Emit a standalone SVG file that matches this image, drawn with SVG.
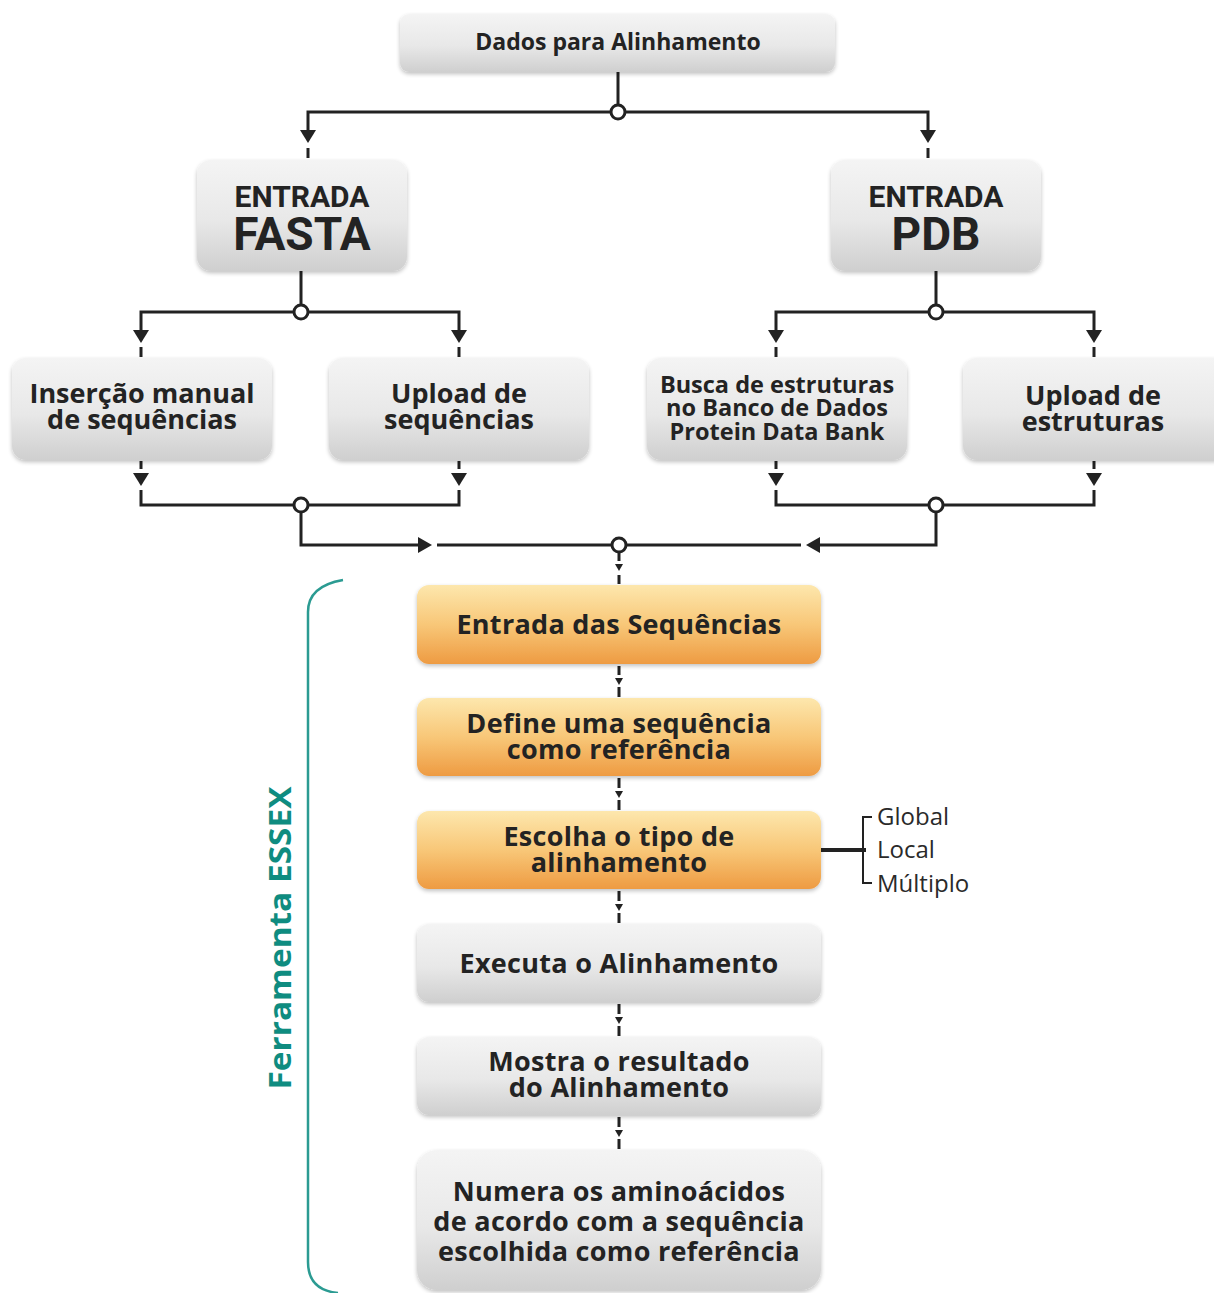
<svg xmlns="http://www.w3.org/2000/svg" width="1214" height="1293" viewBox="0 0 1214 1293">
<defs>
<linearGradient id="gGray" x1="0" y1="0" x2="0" y2="1">
<stop offset="0" stop-color="#f4f4f4"/><stop offset="0.55" stop-color="#e8e8e8"/><stop offset="1" stop-color="#cfcfcf"/>
</linearGradient>
<linearGradient id="gOrange" x1="0" y1="0" x2="0" y2="1">
<stop offset="0" stop-color="#fde7ad"/><stop offset="0.5" stop-color="#f8c778"/><stop offset="1" stop-color="#ee9b42"/>
</linearGradient>
<filter id="sh" x="-5%" y="-10%" width="110%" height="125%">
<feGaussianBlur in="SourceAlpha" stdDeviation="2"/>
<feOffset dy="2" result="b"/>
<feComponentTransfer><feFuncA type="linear" slope="0.25"/></feComponentTransfer>
<feMerge><feMergeNode/><feMergeNode in="SourceGraphic"/></feMerge>
</filter>
<path id="aDown" d="M-8,0 L8,0 L0,13 Z" fill="#222"/>
<path id="aSmall" d="M-4,0 L4,0 L0,7 Z" fill="#222"/>
</defs>
<style>
.gray{fill:url(#gGray);filter:url(#sh)}
.orange{fill:url(#gOrange);filter:url(#sh)}
.t{font-family:"Open Sans","Liberation Sans",sans-serif;font-weight:700;fill:#232323;text-anchor:middle}
.m{font-size:27px;letter-spacing:0.3px}
.h{font-family:Roboto,"Liberation Sans",sans-serif;font-weight:700;fill:#232323;text-anchor:middle}
.s{font-family:"Open Sans","Liberation Sans",sans-serif;font-weight:400;fill:#2a2a2a;font-size:24px}
.ln{fill:none;stroke:#222;stroke-width:3}
.dot{fill:#fff;stroke:#222;stroke-width:3}
</style>
<rect width="1214" height="1293" fill="#fff"/>

<g id="connectors">
<path class="ln" d="M618,72 V105"/>
<circle class="dot" cx="618" cy="112" r="7"/>
<path class="ln" d="M308,130 V112 H611 M625,112 H928 V130"/>
<use href="#aDown" x="308" y="130"/><use href="#aDown" x="928" y="130"/>
<path class="ln" d="M308,148 V158 M928,148 V158"/>

<path class="ln" d="M301,271 V305 M936,271 V305"/>
<circle class="dot" cx="301" cy="312" r="7"/>
<circle class="dot" cx="936" cy="312" r="7"/>
<path class="ln" d="M141,330 V312 H294 M308,312 H459 V330 M776,330 V312 H929 M943,312 H1094 V330"/>
<use href="#aDown" x="141" y="330"/><use href="#aDown" x="459" y="330"/>
<use href="#aDown" x="776" y="330"/><use href="#aDown" x="1094" y="330"/>
<path class="ln" d="M141,347 V357 M459,347 V357 M776,347 V357 M1094,347 V357"/>

<path class="ln" d="M141,461 V469 M459,461 V469 M776,461 V469 M1094,461 V469"/>
<use href="#aDown" x="141" y="473"/><use href="#aDown" x="459" y="473"/>
<use href="#aDown" x="776" y="473"/><use href="#aDown" x="1094" y="473"/>
<path class="ln" d="M141,490 V505 H294 M308,505 H459 V490 M776,490 V505 H929 M943,505 H1094 V490"/>
<circle class="dot" cx="301" cy="505" r="7"/>
<circle class="dot" cx="936" cy="505" r="7"/>
<path class="ln" d="M301,512 V545 H418 M437,545 H612 M936,512 V545 H820 M801,545 H626"/>
<path d="M418,537 L418,553 L432,545 Z" fill="#222"/>
<path d="M820,537 L820,553 L806,545 Z" fill="#222"/>
<circle class="dot" cx="619" cy="545" r="7"/>
<path class="ln" d="M619,552 V561 M619,575 V584"/>
<use href="#aSmall" x="619" y="564"/>

<path class="ln" d="M619,666 V675 M619,687 V697"/>
<use href="#aSmall" x="619" y="678"/>
<path class="ln" d="M619,778 V788 M619,800 V810"/>
<use href="#aSmall" x="619" y="791"/>
<path class="ln" d="M619,891 V901 M619,913 V923"/>
<use href="#aSmall" x="619" y="904"/>
<path class="ln" d="M619,1004 V1014 M619,1026 V1036"/>
<use href="#aSmall" x="619" y="1017"/>
<path class="ln" d="M619,1117 V1127 M619,1139 V1149"/>
<use href="#aSmall" x="619" y="1130"/>

<path fill="none" stroke="#222" stroke-width="4" d="M821,850 H866"/>
<path fill="none" stroke="#222" stroke-width="2" d="M872,817 H863 V883 H872"/>
</g>

<g id="bracket">
<path fill="none" stroke="#2b9b92" stroke-width="2.5" d="M343,580 Q308,586 308,612 V1262 Q308,1290 338,1293"/>
<text transform="translate(291,938) rotate(-90)" font-family="'Open Sans','Liberation Sans',sans-serif" font-weight="700" font-size="30" fill="#0f8c80" text-anchor="middle" textLength="303" lengthAdjust="spacingAndGlyphs">Ferramenta ESSEX</text>
</g>

<g id="n-dados"><rect class="gray" x="400" y="14" width="435" height="58" rx="9"/><text class="t" x="618" y="50" font-size="23">Dados para Alinhamento</text></g>

<g id="n-fasta"><rect class="gray" x="197" y="160" width="210" height="111" rx="14"/>
<text class="h" x="302" y="207" font-size="30">ENTRADA</text><text class="h" x="302" y="250" font-size="46">FASTA</text></g>
<g id="n-pdb"><rect class="gray" x="831" y="160" width="210" height="111" rx="14"/>
<text class="h" x="936" y="207" font-size="30">ENTRADA</text><text class="h" x="936" y="250" font-size="46">PDB</text></g>

<g id="n-insercao"><rect class="gray" x="12" y="358" width="260" height="102" rx="14"/>
<text class="t" x="142" y="403" font-size="27">Inserção manual</text><text class="t" x="142" y="429" font-size="27">de sequências</text></g>
<g id="n-upseq"><rect class="gray" x="329" y="358" width="260" height="102" rx="14"/>
<text class="t" x="459" y="403" font-size="27">Upload de</text><text class="t" x="459" y="429" font-size="27">sequências</text></g>
<g id="n-busca"><rect class="gray" x="647" y="358" width="260" height="102" rx="14"/>
<text class="t" x="777" y="393" font-size="23.5">Busca de estruturas</text><text class="t" x="777" y="416" font-size="23.5">no Banco de Dados</text><text class="t" x="777" y="440" font-size="23.5">Protein Data Bank</text></g>
<g id="n-upestr"><rect class="gray" x="963" y="358" width="265" height="102" rx="14"/>
<text class="t" x="1093" y="405" font-size="27">Upload de</text><text class="t" x="1093" y="431" font-size="27">estruturas</text></g>

<g id="n-entrada"><rect class="orange" x="417" y="585" width="404" height="79" rx="12"/>
<text class="t m" x="619" y="634">Entrada das Sequências</text></g>
<g id="n-define"><rect class="orange" x="417" y="698" width="404" height="78" rx="12"/>
<text class="t m" x="619" y="733">Define uma sequência</text><text class="t m" x="619" y="759">como referência</text></g>
<g id="n-escolha"><rect class="orange" x="417" y="811" width="404" height="78" rx="12"/>
<text class="t m" x="619" y="846">Escolha o tipo de</text><text class="t m" x="619" y="872">alinhamento</text></g>
<g id="n-tipos"><text class="s" x="877" y="825">Global</text><text class="s" x="877" y="858">Local</text><text class="s" x="877" y="892">Múltiplo</text></g>
<g id="n-executa"><rect class="gray" x="417" y="924" width="404" height="78" rx="12"/>
<text class="t m" x="619" y="973">Executa o Alinhamento</text></g>
<g id="n-mostra"><rect class="gray" x="417" y="1037" width="404" height="78" rx="12"/>
<text class="t m" x="619" y="1071">Mostra o resultado</text><text class="t m" x="619" y="1097">do Alinhamento</text></g>
<g id="n-numera"><rect class="gray" x="417" y="1150" width="404" height="140" rx="20"/>
<text class="t m" x="619" y="1201">Numera os aminoácidos</text><text class="t m" x="619" y="1231">de acordo com a sequência</text><text class="t m" x="619" y="1261">escolhida como referência</text></g>
</svg>
